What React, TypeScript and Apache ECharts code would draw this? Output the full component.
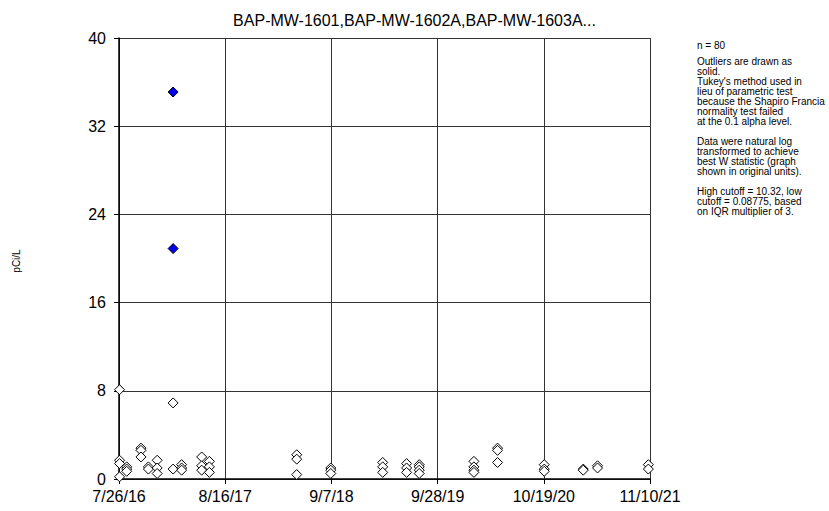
import React, { useEffect, useRef } from "react";
import * as echarts from "echarts";

const START_DATE = "2016-07-26";
const END_DATE = "2021-11-10";
const tickLabels = ["7/26/16", "8/16/17", "9/7/18", "9/28/19", "10/19/20", "11/10/21"];
const yTicks = { min: 0, max: 40, interval: 8 };
const HIGH_CUTOFF = 10.32;

const sampleDates = [
  "2016-07-28", "2016-08-23", "2016-10-14", "2016-11-10", "2016-12-12",
  "2017-02-08", "2017-03-11", "2017-05-23", "2017-06-20", "2018-05-04",
  "2018-09-05", "2019-03-13", "2019-06-08", "2019-07-24", "2020-02-08",
  "2020-05-04", "2020-10-21", "2021-03-12", "2021-05-03", "2021-11-04",
];
const sampleValues = [
  [8.1, 1.7, 1.4, 0.2],
  [1.1, 0.9, 0.7],
  [2.8, 2.6, 2.0],
  [1.1, 0.9],
  [1.7, 1.0, 0.5],
  [35.1, 20.9, 6.9, 0.9],
  [1.3, 1.0, 0.8],
  [2.0, 1.2, 0.8],
  [1.6, 1.1, 0.6],
  [2.2, 1.8, 0.4],
  [1.0, 0.8, 0.5],
  [1.5, 1.1, 0.6],
  [1.4, 1.0, 0.6],
  [1.3, 1.1, 0.8, 0.5],
  [1.6, 1.1, 0.8, 0.6],
  [2.8, 2.6, 1.5],
  [1.3, 0.9, 0.7],
  [0.9, 0.8],
  [1.2, 1.0],
  [1.3, 0.9],
];

const titleText = "BAP-MW-1601,BAP-MW-1602A,BAP-MW-1603A...";
const nText = "n = 80";
const noteText = [
  "Outliers are drawn as",
  "solid.",
  "Tukey's method used in",
  "lieu of parametric test",
  "because the Shapiro Francia",
  "normality test failed",
  "at the 0.1 alpha level.",
  "",
  "Data were natural log",
  "transformed to achieve",
  "best W statistic (graph",
  "shown in original units).",
  "",
  "High cutoff = 10.32, low",
  "cutoff = 0.08775, based",
  "on IQR multiplier of 3.",
];

const FONT = "'Liberation Sans', Arial, sans-serif";
const DAY = 86400000;
const dayOf = (s: string) =>
  (Date.parse(s + "T00:00:00Z") - Date.parse(START_DATE + "T00:00:00Z")) / DAY;

export default function App() {
  const ref = useRef<HTMLDivElement>(null);
  useEffect(() => {
    if (!ref.current) return;
    const chart = echarts.init(ref.current, undefined, { renderer: "svg" });
    const span = dayOf(END_DATE);
    const step = span / (tickLabels.length - 1);
    const normal: number[][] = [];
    const outliers: number[][] = [];
    sampleDates.forEach((d, i) => {
      sampleValues[i].forEach((v) => {
        (v > HIGH_CUTOFF ? outliers : normal).push([dayOf(d), v]);
      });
    });
    chart.setOption({
      animation: false,
      backgroundColor: "#fff",
      title: {
        text: titleText,
        left: "center",
        top: 7,
        textStyle: { fontFamily: FONT, fontSize: 16, fontWeight: "normal", color: "#000" },
      },
      grid: { left: 119, top: 38, width: 531, height: 441, containLabel: false },
      xAxis: {
        type: "value",
        min: 0,
        max: span,
        interval: step,
        axisLine: { show: true, lineStyle: { color: "#000", width: 1.5 } },
        axisTick: { show: true, length: 5, lineStyle: { color: "#000" } },
        splitLine: { show: true, lineStyle: { color: "#333", width: 1 } },
        axisLabel: {
          margin: 9,
          fontFamily: FONT,
          fontSize: 16,
          color: "#000",
          showMaxLabel: true,
          showMinLabel: true,
          formatter: (v: number) => tickLabels[Math.round(v / step)] ?? "",
        },
      },
      yAxis: {
        type: "value",
        min: yTicks.min,
        max: yTicks.max,
        interval: yTicks.interval,
        axisLine: { show: true, lineStyle: { color: "#000", width: 1.5 } },
        axisTick: { show: true, length: 5, lineStyle: { color: "#000" } },
        splitLine: { show: true, lineStyle: { color: "#333", width: 1 } },
        axisLabel: { margin: 13, fontFamily: FONT, fontSize: 16, color: "#000" },
      },
      series: [
        {
          type: "scatter",
          data: normal,
          symbol: "diamond",
          symbolSize: 10,
          itemStyle: { color: "#fff", borderColor: "#000", borderWidth: 1, opacity: 1 },
          z: 3,
        },
        {
          type: "scatter",
          data: outliers,
          symbol: "diamond",
          symbolSize: 10,
          itemStyle: { color: "#0000EE", borderColor: "#000", borderWidth: 1, opacity: 1 },
          z: 4,
        },
      ],
      graphic: [
        {
          type: "text",
          x: 16,
          y: 261,
          rotation: Math.PI / 2,
          style: {
            text: "pCi/L",
            fontFamily: FONT,
            fontSize: 10,
            fill: "#000",
            align: "center",
            verticalAlign: "middle",
          },
        },
        {
          type: "text",
          x: 697,
          y: 40,
          style: {
            text: nText,
            fontFamily: FONT,
            fontSize: 10,
            lineHeight: 10,
            fill: "#000",
            verticalAlign: "top",
          },
        },
        {
          type: "text",
          x: 697,
          y: 56,
          style: {
            text: noteText.join("\n"),
            fontFamily: FONT,
            fontSize: 10,
            lineHeight: 10,
            fill: "#000",
            verticalAlign: "top",
          },
        },
      ],
    });
    return () => chart.dispose();
  }, []);
  return (
    <div
      ref={ref}
      style={{ position: "absolute", left: 0, top: 0, width: 829, height: 511 }}
    />
  );
}
